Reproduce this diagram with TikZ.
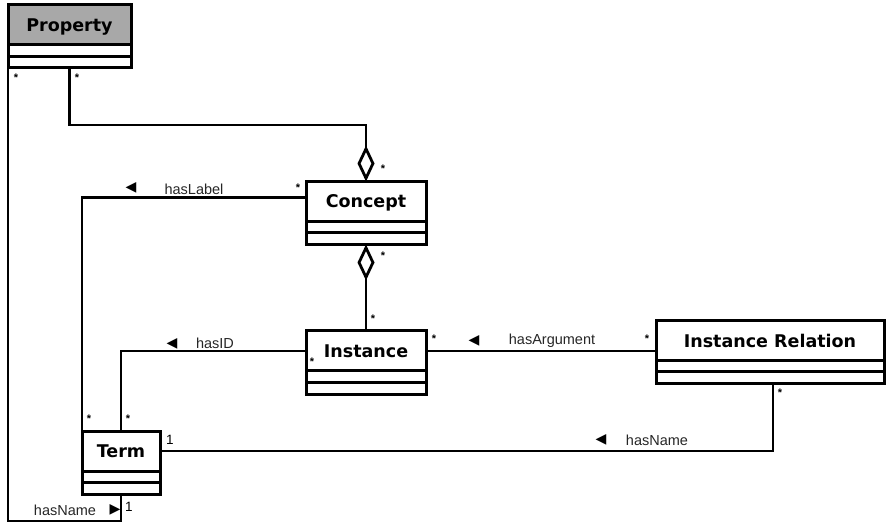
\documentclass[tikz,border=0pt]{standalone}
\usepackage{fontspec}
\usepackage{tikz}
\usetikzlibrary{positioning,arrows.meta}
\newfontfamily\titlefont{DejaVu Sans}
\newfontfamily\labelfont{Liberation Sans}
\newfontfamily\symfont{DejaVu Sans}
\definecolor{headgray}{HTML}{A8A8A8}
\colorlet{labelcolor}{black!85}
\tikzstyle{classhead} =[
    draw,
    line width=3pt,
    rectangle,
    minimum height=40pt,
    inner sep=0pt,
    outer sep=0pt,
    text depth=0pt,
    font=\titlefont\bfseries\fontsize{17.5}{19}\selectfont
    ]
\tikzstyle{classpart} =[
    draw,
    line width=3pt,
    rectangle,
    minimum height=11.5pt,
    inner sep=0pt,
    outer sep=0pt
    ]
\tikzstyle{assoc} =[line width=2.8pt]
\tikzstyle{aggr} =[line width=2.8pt, -{Diamond[open,length=36pt,width=17pt]}]
\tikzstyle{assoclabel} =[inner sep=0pt, text=labelcolor, font=\labelfont\fontsize{14.5}{15}\selectfont]
\tikzstyle{dirmark} =[inner sep=0pt, font=\symfont\fontsize{14}{14}\selectfont]
\tikzstyle{mult} =[inner sep=0pt, font=\labelfont\bfseries\fontsize{11}{11}\selectfont]
\tikzstyle{multone} =[inner sep=0pt, font=\labelfont\fontsize{13.5}{14}\selectfont]
\newcommand{\umlclass}[5][]{% class with two empty compartments
\node[classhead, minimum width=#4, #1] (#2) at #3 {#5};
\node[classpart, minimum width=#4, below=0pt of #2] (#2-a) {};
\node[classpart, minimum width=#4, below=0pt of #2-a] (#2-b) {};
}
\begin{document}
\begin{tikzpicture}[x=1pt, y=-1pt]
\useasboundingbox (0,0) rectangle (886,526);

\umlclass[fill=headgray]{property}{(69.5,25)}{123pt}{Property}
\umlclass{concept}{(366,201.5)}{120pt}{Concept}
\umlclass{instance}{(366,351)}{120pt}{Instance}
\umlclass{irel}{(770,340.5)}{228pt}{Instance Relation}
\umlclass{term}{(121,451)}{78pt}{Term}

\draw[aggr] (property-b.south) -- ++(0,57) -| (concept.north);
\draw[aggr] (instance.north) -- (concept-b.south);
\draw[assoc] ([yshift=4pt]concept.west) -| (term.north west);
\draw[assoc] (instance.west) -| (term.north);
\draw[assoc] (instance.east) -- (instance.east -| irel.west);
\draw[assoc] (term.east) -| ([xshift=3pt]irel-b.south);
\draw[assoc] (term-b.south) -- ++(0,27) -| (property-b.south west);

\node[dirmark] (haslabel-dir) at (131,188) {◀};
\node[assoclabel] (haslabel) at (194,189) {hasLabel};
\node[dirmark] (hasid-dir) at (172,344) {◀};
\node[assoclabel] (hasid) at (215,343) {hasID};
\node[dirmark] (hasarg-dir) at (474,341) {◀};
\node[assoclabel] (hasarg) at (552,341) {hasArgument};
\node[dirmark] (hasname-dir) at (601,440) {◀};
\node[assoclabel] (hasname) at (657,440) {hasName};
\node[assoclabel] (selfname) at (65,510) {hasName};
\node[dirmark] (selfname-dir) at (115,510) {▶};

\node[mult] (m-prop-l) at (16,78) {*};
\node[mult] (m-prop-r) at (77,78) {*};
\node[mult] (m-con-top) at (383,169) {*};
\node[mult] (m-con-l) at (298,188) {*};
\node[mult] (m-con-bot) at (383,256) {*};
\node[mult] (m-ins-top) at (373,319) {*};
\node[mult] (m-ins-l) at (312,362) {*};
\node[mult] (m-ins-r) at (434,339) {*};
\node[mult] (m-irel-l) at (647,339) {*};
\node[mult] (m-irel-bot) at (780,393) {*};
\node[mult] (m-term-l) at (89,419) {*};
\node[mult] (m-term-r) at (128,419) {*};
\node[multone] (m-term-one) at (170,440) {1};
\node[multone] (m-self-one) at (129,507) {1};
\end{tikzpicture}
\end{document}
